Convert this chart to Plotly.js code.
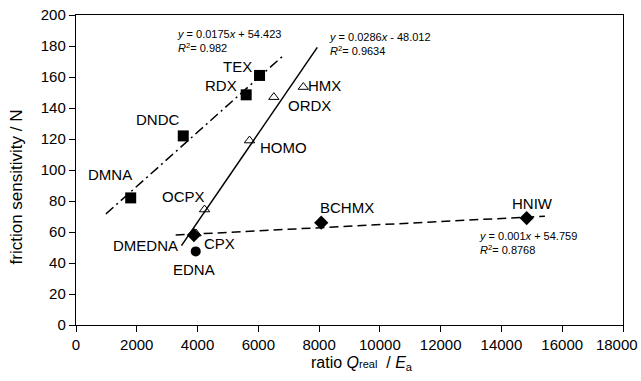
<!DOCTYPE html>
<html><head><meta charset="utf-8">
<script src="https://cdn.plot.ly/plotly-3.0.1.min.js"></script>
<style>body{margin:0;background:#fff}#c{width:641px;height:381px}</style>
</head><body><div id="c"></div>
<script>
// Data
const sqNames = ["DMNA","DNDC","RDX","TEX"];
const sqX = [1800, 3530, 5600, 6040];
const sqY = [82, 122, 148.5, 161];

const triNames = ["CPX","OCPX","HOMO","ORDX","HMX"];
const triX = [3950, 4230, 5710, 6510, 7480];
const triY = [59, 74.5, 119, 147, 153.5];

const diaNames = ["DMEDNA","BCHMX","HNIW"];
const diaX = [3880, 8070, 14830];
const diaY = [58, 66, 69];

const cirNames = ["EDNA"];
const cirX = [3940];
const cirY = [47.5];

// Trend lines: slope, intercept, x extent
const fitSq = {a:0.0175, b:54.423, x:[985, 6840], r2:"0.982"};
const fitTri = {a:0.0286, b:-48.012, x:[3470, 7940], r2:"0.9634"};
const fitDia = {a:0.001, b:54.759, x:[3280, 15430], r2:"0.8768"};

const xTicks = [0,2000,4000,6000,8000,10000,12000,14000,16000,18000];
const yTicks = [0,20,40,60,80,100,120,140,160,180,200];

const font = '"Liberation Sans", Arial, sans-serif';

function line(f, dash){
  return {x:f.x, y:f.x.map(v=>f.a*v+f.b), mode:'lines', type:'scatter',
    line:{color:'#000', width:1.5, dash:dash}, hoverinfo:'skip', showlegend:false};
}
const traces = [
  line(fitSq, '10px,4px,2px,4px'),
  line(fitTri, 'solid'),
  line(fitDia, '9px,5px'),
  {x:sqX, y:sqY, mode:'markers', type:'scatter', marker:{symbol:'square', size:11, color:'#000'}, showlegend:false},
  {x:triX, y:triY, mode:'markers', type:'scatter', marker:{symbol:'triangle-up-open', size:9, color:'#000', line:{width:1}}, showlegend:false},
  {x:diaX, y:diaY, mode:'markers', type:'scatter', marker:{symbol:'diamond', size:11, color:'#000'}, showlegend:false},
  {x:cirX, y:cirY, mode:'markers', type:'scatter', marker:{symbol:'circle', size:10, color:'#000'}, showlegend:false}
];

// label placement (data coords of label centres)
const labelPos = {
  TEX:[5314,166.5], RDX:[4771,154.2], DNDC:[2698,132.3], DMNA:[1119,96.8],
  HMX:[8193,154.2], ORDX:[7700,141.3], HOMO:[6812,114.2], OCPX:[3521,83.2],
  DMEDNA:[2303,51.6], CPX:[4706,52.3], EDNA:[3883,36.1], BCHMX:[8934,76.1], HNIW:[15038,78.7]
};
const allNames = [].concat(sqNames, triNames, diaNames, cirNames);
const annotations = allNames.map(n=>({x:labelPos[n][0], y:labelPos[n][1], xref:'x', yref:'y',
  text:n, showarrow:false, xanchor:'center', yanchor:'middle', font:{family:font, size:15, color:'#000'}}));

function eqText(f){
  const sign = f.b < 0 ? ' - ' : ' + ';
  return '<i>y</i> = ' + f.a + '<i>x</i>' + sign + Math.abs(f.b) + '<br><i>R</i><sup>2</sup>= ' + f.r2;
}
const eqPos = [[fitSq,3258,183.5],[fitTri,8259,181.3],[fitDia,13195,53.2]];
eqPos.forEach(e=>annotations.push({x:e[1], y:e[2], xref:'x', yref:'y', text:eqText(e[0]),
  showarrow:false, xanchor:'left', yanchor:'middle', align:'left', font:{family:font, size:11, color:'#000'}}));

// axis titles
annotations.push({xref:'paper', yref:'paper', x:-0.109, y:0.445, textangle:-90, showarrow:false,
  text:'friction sensitivity / N', font:{family:font, size:17, color:'#000'}, xanchor:'center', yanchor:'middle'});
annotations.push({xref:'paper', yref:'paper', x:0.522, y:-0.125, showarrow:false,
  text:'ratio <i>Q</i><span style="font-size:11px">real</span>  / <i>E</i><sub>a</sub>', font:{family:font, size:16, color:'#000'}, xanchor:'center', yanchor:'middle'});

const axisCommon = {showgrid:false, zeroline:false, showline:true, linecolor:'#000', linewidth:1.2, mirror:true,
  ticks:'outside', ticklen:6, tickcolor:'#000', tickwidth:1, ticklabeloverflow:'allow',
  tickfont:{family:font, size:15, color:'#000'}};

// keep the last x tick label inside the page by padding it on the right
const xTickText = xTicks.map((v,i)=> i===xTicks.length-1 ? String(v)+'\u00a0\u00a0\u00a0' : String(v));

const layout = {
  width:641, height:381,
  margin:{l:76, r:18, t:15, b:56},
  paper_bgcolor:'#fff', plot_bgcolor:'#fff',
  xaxis:Object.assign({range:[0,18000], tickvals:xTicks, ticktext:xTickText}, axisCommon),
  yaxis:Object.assign({range:[0,200], tickvals:yTicks, ticktext:yTicks.map(String)}, axisCommon),
  annotations:annotations,
  showlegend:false
};
Plotly.newPlot('c', traces, layout, {staticPlot:true});
</script></body></html>
